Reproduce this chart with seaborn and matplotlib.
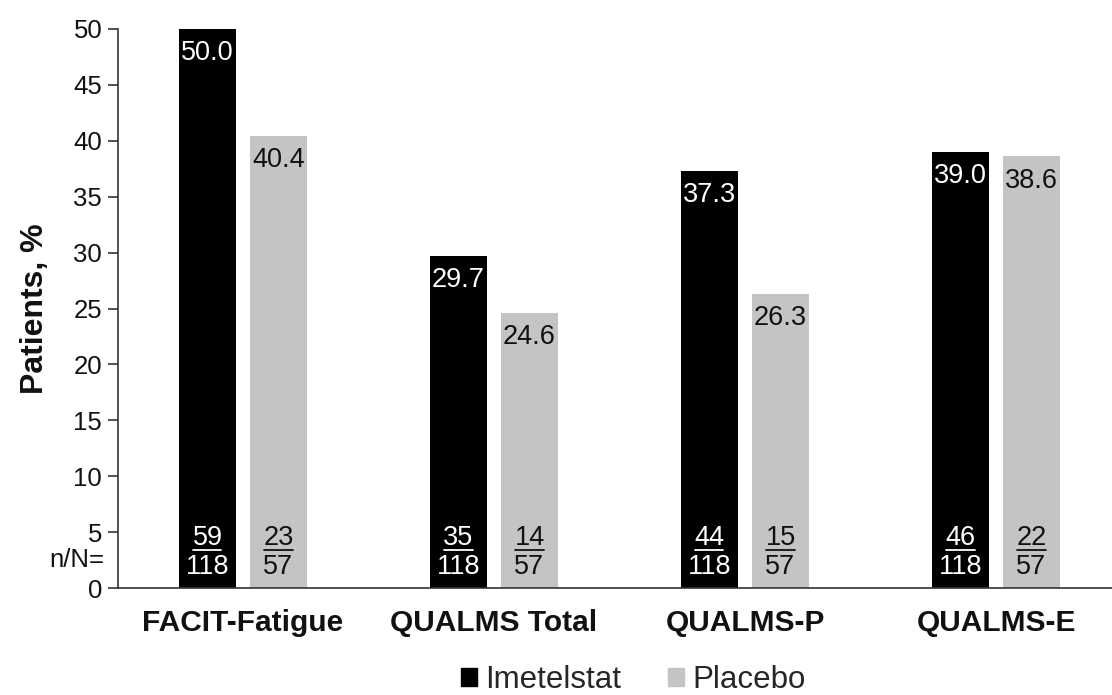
import matplotlib
matplotlib.use("Agg")
import matplotlib.pyplot as plt
import matplotlib.transforms as mtransforms
from matplotlib.lines import Line2D
import seaborn as sns
import pandas as pd

categories = ["FACIT-Fatigue", "QUALMS Total", "QUALMS-P", "QUALMS-E"]
groups = ["Imetelstat", "Placebo"]
imetelstat = [50.0, 29.7, 37.3, 39.0]
placebo = [40.4, 24.6, 26.3, 38.6]
imet_n = [59, 35, 44, 46]
imet_N = [118, 118, 118, 118]
plac_n = [23, 14, 15, 22]
plac_N = [57, 57, 57, 57]
yticks = [0, 5, 10, 15, 20, 25, 30, 35, 40, 45, 50]

sns.set_theme(style="white")
plt.rcParams["font.family"] = ["Liberation Sans", "DejaVu Sans"]

df = pd.DataFrame({
    "Category": categories * 2,
    "Group": [groups[0]] * 4 + [groups[1]] * 4,
    "Value": imetelstat + placebo,
})

colors = {"Imetelstat": "#000000", "Placebo": "#c4c4c4"}
txt_colors = {"Imetelstat": "white", "Placebo": "#111111"}

W, H = 1112, 695
fig = plt.figure(figsize=(W / 100, H / 100), dpi=100)
ax = fig.add_axes([117.5 / W, 1 - 588 / H, 1004 / W, (588 - 29) / H])

sns.barplot(data=df, x="Category", y="Value", hue="Group", order=categories,
            hue_order=groups, palette=colors, width=0.566, gap=0.198,
            saturation=1, ax=ax, legend=False, linewidth=0)

ax.set_xlim(-0.5, 3.5)
ax.set_ylim(0, 50)
ax.set_yticks(yticks)
ax.set_yticklabels([str(t) for t in yticks])
ax.tick_params(axis="y", which="major", direction="out", length=7, width=1.2,
               color="#333333", labelsize=18.5, labelcolor="#111111", pad=4, left=True)
ax.tick_params(axis="x", length=0, labelsize=21.5, pad=15)
for lab in ax.get_xticklabels():
    lab.set_fontweight("bold")
    lab.set_color("#111111")
ax.set_xlabel("")
ax.set_ylabel("Patients, %", fontsize=23, fontweight="bold", color="#111111", labelpad=17)
for s in ["top", "right"]:
    ax.spines[s].set_visible(False)
for s in ["left", "bottom"]:
    ax.spines[s].set_color("#333333")
    ax.spines[s].set_linewidth(1.2)

# value labels and n/N labels
num_texts = []
for gi, cont in enumerate(ax.containers):
    g = groups[gi]
    vals = imetelstat if gi == 0 else placebo
    ns = imet_n if gi == 0 else plac_n
    Ns = imet_N if gi == 0 else plac_N
    for bi, bar in enumerate(cont):
        xc = bar.get_x() + bar.get_width() / 2
        ax.annotate(f"{vals[bi]:.1f}", (xc, bar.get_height()), xytext=(0, -8),
                    textcoords="offset points", ha="center", va="top",
                    fontsize=19.5, color=txt_colors[g])
        t = ax.text(xc, 4.45, str(ns[bi]), ha="center", va="center",
                    fontsize=19.5, color=txt_colors[g])
        num_texts.append((t, txt_colors[g]))
        ax.text(xc, 1.85, str(Ns[bi]), ha="center", va="center",
                fontsize=19.5, color=txt_colors[g])

trans = mtransforms.blended_transform_factory(ax.transAxes, ax.transData)
ax.text(-0.013, 2.5, "n/N=", transform=trans, ha="right", va="center",
        fontsize=18.5, color="#111111")

# underline numerators
fig.canvas.draw()
renderer = fig.canvas.get_renderer()
for t, c in num_texts:
    bb = t.get_window_extent(renderer)
    y = bb.y0 + 1
    line = Line2D([bb.x0 + 1, bb.x1 - 1], [y, y], transform=None, color=c, lw=1.3)
    fig.add_artist(line)

handles = [plt.Rectangle((0, 0), 1, 1, color=colors[g]) for g in groups]
fig.legend(handles, groups, loc="center", bbox_to_anchor=(633 / W, 1 - 680 / H),
           ncol=2, frameon=False, fontsize=22.5, handlelength=0.52,
           handleheight=0.52, handletextpad=0.26, columnspacing=1.5,
           borderpad=0, borderaxespad=0)

fig.savefig("out.png", dpi=100)
